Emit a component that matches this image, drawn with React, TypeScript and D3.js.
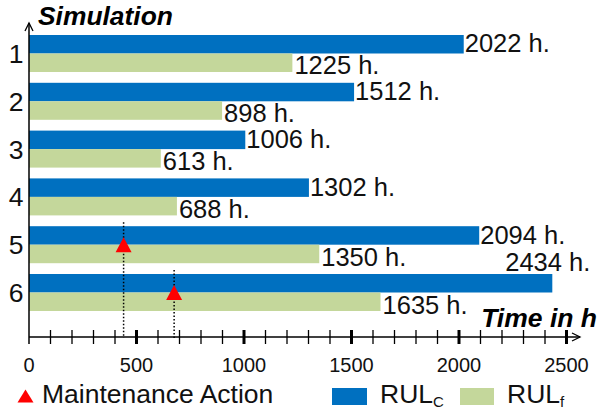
import React from "react";
import * as d3 from "d3";

const simulations = [1, 2, 3, 4, 5, 6];
const rulC = [2022, 1512, 1006, 1302, 2094, 2434];
const rulF = [1225, 898, 613, 688, 1350, 1635];
const maintenanceSims = [5, 6];
const maintenanceTimes = [440, 675];
const xTicksMajor = [0, 500, 1000, 1500, 2000, 2500];

const BLUE = "#0070C0";
const GREEN = "#C4D79B";
const RED = "#FF0000";
const FONT = "'Liberation Sans', Arial, sans-serif";

export default function App() {
  const W = 606, H = 412;
  const x = d3.scaleLinear().domain([0, 2500]).range([29, 566.5]);
  const y = d3
    .scaleBand<number>()
    .domain(simulations)
    .range([35, 311])
    .paddingInner(0.226)
    .paddingOuter(0);
  const bw = y.bandwidth();
  const half = bw / 2;
  const axisY = 337;
  const minorTicks = d3.range(100, 2501, 100);
  const FS = 26.5;
  const VFS = 25.5;

  const tri = (cx: number, cy: number, w: number, h: number) =>
    `M${cx - w / 2},${cy + h / 2}L${cx},${cy - h / 2}L${cx + w / 2},${cy + h / 2}Z`;

  return (
    <svg
      width={W}
      height={H}
      style={{ position: "absolute", left: 0, top: 0, background: "#fff" }}
      fontFamily={FONT}
    >
      {/* bars */}
      {simulations.map((s, i) => (
        <g key={s}>
          <rect x={x(0)} y={y(s)!} width={x(rulC[i]) - x(0)} height={half} fill={BLUE} />
          <rect x={x(0)} y={y(s)! + half} width={x(rulF[i]) - x(0)} height={half} fill={GREEN} />
        </g>
      ))}

      {/* value labels */}
      {simulations.map((s, i) => {
        const fits = x(rulC[i]) + 92 < W;
        return (
          <g key={"l" + s} fontSize={VFS} fill="#111">
            {fits ? (
              <text x={x(rulC[i]) + 1} y={y(s)! + half - 1}>{`${rulC[i]} h.`}</text>
            ) : (
              <text x={x(rulC[i]) + 38} y={y(s)! - 3} textAnchor="end">{`${rulC[i]} h.`}</text>
            )}
            <text x={x(rulF[i]) + 2} y={y(s)! + bw + 2.5}>{`${rulF[i]} h.`}</text>
          </g>
        );
      })}

      {/* y category labels */}
      {simulations.map((s) => (
        <text key={"y" + s} x={16} y={y(s)! + half + 9.5} fontSize={FS} textAnchor="middle" fill="#111">
          {s}
        </text>
      ))}

      {/* maintenance dotted lines + markers */}
      {maintenanceSims.map((s, i) => (
        <line
          key={"m" + i}
          x1={x(maintenanceTimes[i])}
          x2={x(maintenanceTimes[i])}
          y1={y(s)! - 4}
          y2={axisY + 1}
          stroke="#000"
          strokeWidth={1.5}
          strokeDasharray="1.5,2"
        />
      ))}
      {maintenanceSims.map((s, i) => (
        <path key={"t" + i} d={tri(x(maintenanceTimes[i]), y(s)! + half, 16, 15)} fill={RED} />
      ))}

      {/* y axis */}
      <line x1={x(0)} x2={x(0)} y1={23} y2={axisY + 7} stroke="#000" strokeWidth={1.5} />
      <path d={`M${x(0) - 4},${31}L${x(0)},${23}L${x(0) + 4},${31}`} fill="none" stroke="#000" strokeWidth={1.3} />
      <text x={38} y={25} fontSize={26.4} fontWeight="bold" fontStyle="italic" fill="#000">
        Simulation
      </text>

      {/* x axis */}
      <line x1={x(0)} x2={580} y1={axisY} y2={axisY} stroke="#000" strokeWidth={1.5} />
      <path d={`M${572},${axisY - 4}L${580},${axisY}L${572},${axisY + 4}`} fill="none" stroke="#000" strokeWidth={1.3} />
      {minorTicks.map((t) => (
        <line
          key={"mt" + t}
          x1={x(t)}
          x2={x(t)}
          y1={axisY - 7}
          y2={axisY + 7}
          stroke="#000"
          strokeWidth={t % 500 === 0 ? 3 : 1.3}
        />
      ))}
      {xTicksMajor.map((t) => (
        <text key={"xt" + t} x={x(t)} y={372} fontSize={20} textAnchor="middle" fill="#111">
          {t}
        </text>
      ))}
      <text x={597} y={327} fontSize={26.5} fontWeight="bold" fontStyle="italic" textAnchor="end" fill="#000">
        Time in h
      </text>

      {/* legend */}
      <path d={tri(25.5, 396, 16, 13)} fill={RED} />
      <text x={42} y={403} fontSize={FS} fill="#111">
        Maintenance Action
      </text>
      <rect x={332} y={388} width={35} height={17} fill={BLUE} />
      <text x={380} y={403} fontSize={FS} fill="#111">
        RUL<tspan fontSize={15} dy={4}>C</tspan>
      </text>
      <rect x={460} y={388} width={34} height={17} fill={GREEN} />
      <text x={507} y={403} fontSize={FS} fill="#111">
        RUL<tspan fontSize={15} dy={4}>f</tspan>
      </text>
    </svg>
  );
}
